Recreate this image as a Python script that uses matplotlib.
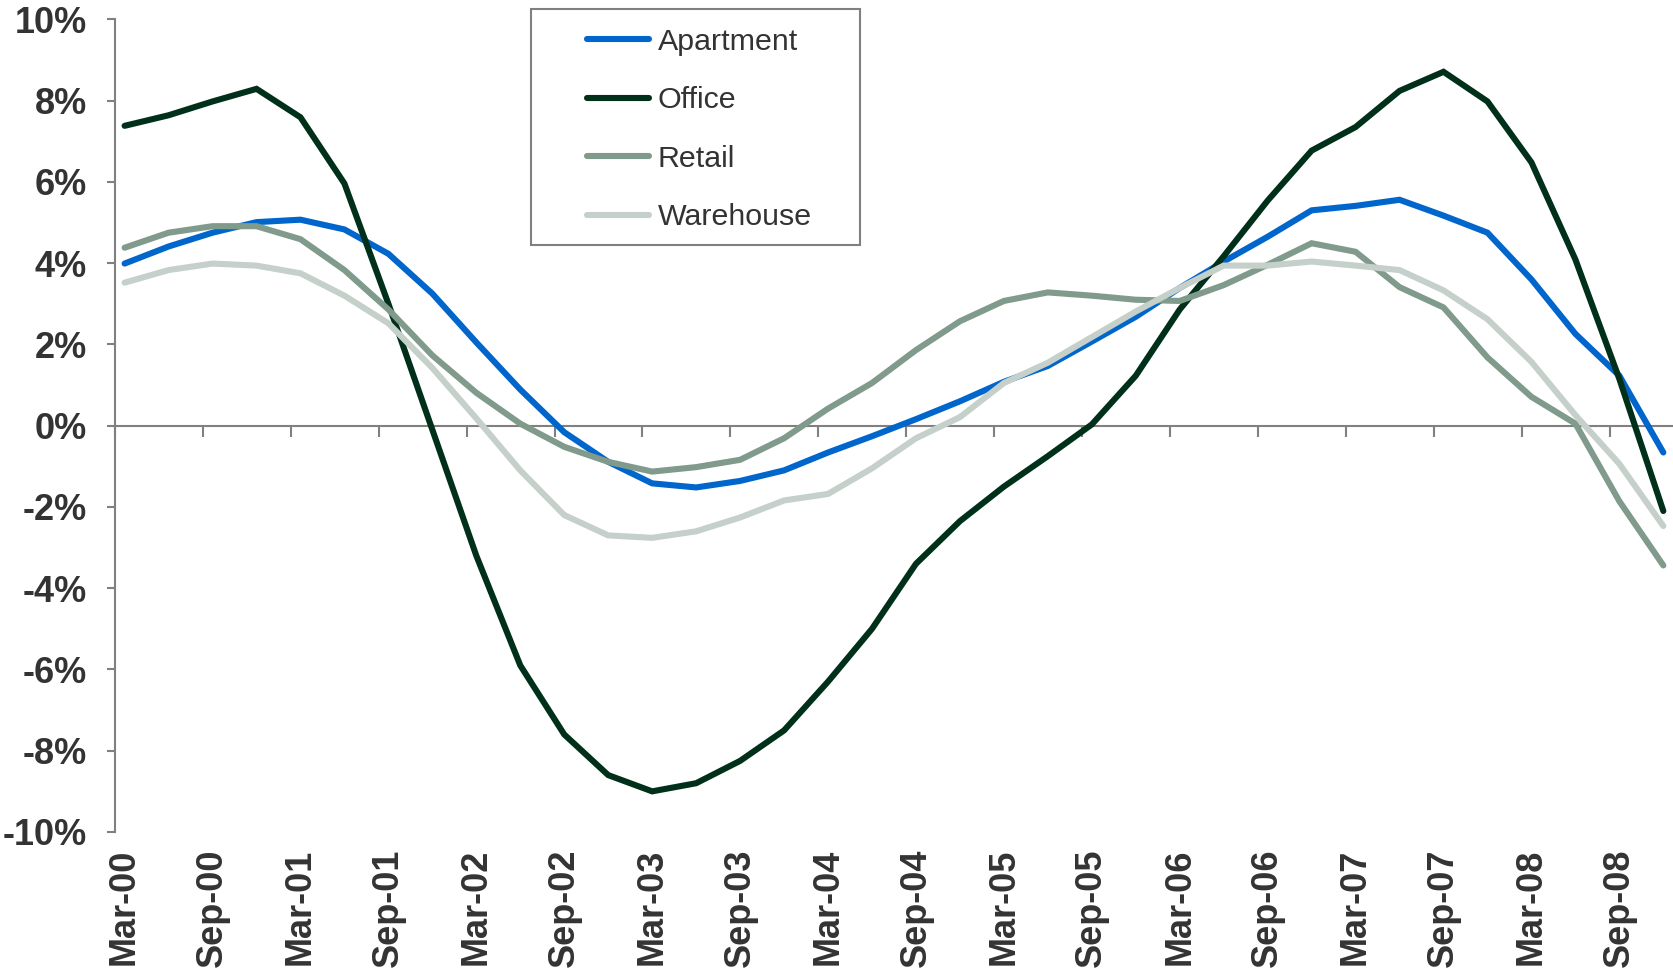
import matplotlib
matplotlib.use("Agg")
import matplotlib.pyplot as plt
from matplotlib.patches import Rectangle

quarters = ["Mar-00", "Jun-00", "Sep-00", "Dec-00", "Mar-01", "Jun-01", "Sep-01", "Dec-01",
            "Mar-02", "Jun-02", "Sep-02", "Dec-02", "Mar-03", "Jun-03", "Sep-03", "Dec-03",
            "Mar-04", "Jun-04", "Sep-04", "Dec-04", "Mar-05", "Jun-05", "Sep-05", "Dec-05",
            "Mar-06", "Jun-06", "Sep-06", "Dec-06", "Mar-07", "Jun-07", "Sep-07", "Dec-07",
            "Mar-08", "Jun-08", "Sep-08", "Dec-08"]

apartment = [3.99, 4.41, 4.75, 5.01, 5.07, 4.83, 4.23, 3.25, 2.05, 0.89, -0.16, -0.89,
             -1.42, -1.52, -1.36, -1.10, -0.66, -0.26, 0.16, 0.60, 1.08, 1.47, 2.07, 2.68,
             3.39, 4.04, 4.65, 5.30, 5.41, 5.56, 5.17, 4.75, 3.60, 2.26, 1.23, -0.66]
office = [7.38, 7.64, 7.98, 8.29, 7.59, 5.96, 3.00, -0.10, -3.20, -5.90, -7.60, -8.60,
          -9.00, -8.80, -8.25, -7.50, -6.30, -5.00, -3.40, -2.35, -1.50, -0.75, 0.03, 1.23,
          2.86, 4.17, 5.54, 6.77, 7.35, 8.24, 8.71, 7.98, 6.48, 4.09, 1.15, -2.10]
retail = [4.38, 4.75, 4.91, 4.91, 4.59, 3.83, 2.86, 1.73, 0.81, 0.05, -0.52, -0.89,
          -1.13, -1.02, -0.84, -0.31, 0.42, 1.05, 1.86, 2.57, 3.07, 3.28, 3.20, 3.10,
          3.07, 3.46, 3.96, 4.49, 4.28, 3.41, 2.91, 1.68, 0.71, 0.05, -1.86, -3.44]
warehouse = [3.52, 3.83, 3.99, 3.94, 3.75, 3.20, 2.52, 1.42, 0.18, -1.10, -2.20, -2.70,
             -2.76, -2.60, -2.26, -1.84, -1.68, -1.05, -0.31, 0.21, 1.05, 1.55, 2.18, 2.81,
             3.39, 3.94, 3.94, 4.04, 3.94, 3.83, 3.33, 2.62, 1.57, 0.26, -0.94, -2.47]

series = [("Apartment", apartment, "#0066CC"),
          ("Office", office, "#00301A"),
          ("Retail", retail, "#809A8C"),
          ("Warehouse", warehouse, "#C5D0CA")]

text_col = "#333333"
axis_col = "#808080"

fig = plt.figure(figsize=(16.73, 9.69), dpi=100)
ax = fig.add_axes([0.0687, 0.1414, 0.9313, 0.8386])

x = list(range(len(quarters)))
handles = []
for name, vals, col in series:
    h, = ax.plot(x, vals, color=col, lw=4.4, solid_capstyle="round",
                 solid_joinstyle="miter", label=name, zorder=3)
    handles.append(h)

ax.set_ylim(-10, 10)
ax.set_xlim(-0.22, 35.22)
ax.set_yticks(range(-10, 11, 2))
ax.set_yticklabels([f"{v}%" for v in range(-10, 11, 2)])

ax.set_xticks(x[::2])
ax.set_xticklabels(quarters[::2], rotation=90, va="top", ha="center")

for s in ["top", "right", "bottom"]:
    ax.spines[s].set_visible(False)
ax.spines["left"].set_color(axis_col)
ax.spines["left"].set_linewidth(1.5)

ax.tick_params(axis="y", direction="out", length=6, width=1.5, color=axis_col,
               pad=14, labelsize=26, labelcolor=text_col)
ax.tick_params(axis="x", length=0, pad=12, labelsize=26, labelcolor=text_col)
for lbl in ax.get_xticklabels() + ax.get_yticklabels():
    lbl.set_fontweight("bold")
    lbl.set_family("Liberation Sans")

# zero line with downward tick marks
ax.axhline(0, color=axis_col, lw=1.5, zorder=2)
tick_x = [i - 0.22 for i in x[::2]] + [x[-1] + 1 - 0.22]
ax.plot(tick_x, [0] * len(tick_x), ls="none", marker=3, ms=8, mew=1.5,
        color=axis_col, zorder=2, clip_on=False)

# legend with a box
leg = fig.legend(handles=handles, loc="upper left", bbox_to_anchor=(0.3509, 0.9712),
                 frameon=False, handlelength=2.05, handletextpad=0.27,
                 labelspacing=1.0, borderpad=0, borderaxespad=0,
                 prop={"family": "Liberation Sans", "size": 21.9})
for t in leg.get_texts():
    t.set_color(text_col)
for lh in leg.get_lines():
    lh.set_linewidth(4.4)
    lh.set_solid_capstyle("round")
fig.patches.append(Rectangle((0.3174, 1 - 245 / 969), (860 - 531) / 1673, (245 - 8.5) / 969,
                             transform=fig.transFigure, fill=False,
                             edgecolor=axis_col, lw=1.5))

fig.savefig("out.png", dpi=100)
